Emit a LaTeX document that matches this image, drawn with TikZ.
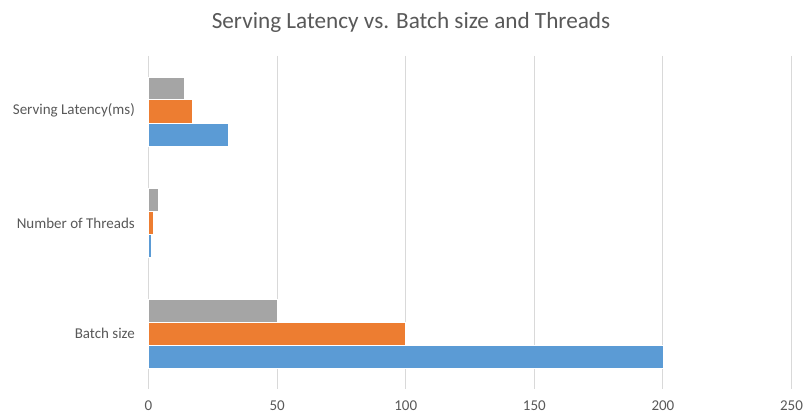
\documentclass[tikz,border=0pt]{standalone}
\usepackage{fontspec}
\setmainfont{Carlito}
\definecolor{txt}{HTML}{595959}
\definecolor{gridc}{HTML}{D9D9D9}
\definecolor{sblue}{HTML}{5B9BD5}
\definecolor{sorange}{HTML}{ED7D31}
\definecolor{sgray}{HTML}{A5A5A5}
\tikzset{
  gridline/.style={draw=gridc, line width=1pt},
  catlabel/.style={anchor=east, text=txt, font=\fontsize{15}{17}\selectfont, inner sep=0pt},
  ticklabel/.style={anchor=center, text=txt, font=\fontsize{15}{17}\selectfont, inner sep=0pt},
  bar/.style={draw=white, line width=0.6pt},
}
\begin{document}
\begin{tikzpicture}[x=1pt,y=-1pt]
\useasboundingbox (0,0) rectangle (803,414);
\fill[white] (0,0) rectangle (803,414);
% gridlines and ticks
\foreach \v/\n in {0/g0,50/g1,100/g2,150/g3,200/g4,250/g5}{
  \coordinate (\n top) at ({148.5+2.572*\v},56);
  \coordinate (\n bot) at ({148.5+2.572*\v},389);
  \draw[gridline] (\n top) -- (\n bot);
  \node[ticklabel] (\n lab) at ({148.5+2.572*\v},405.5) {\v};
}
% title
\node[text=txt, font=\fontsize{23.2}{26}\selectfont, inner sep=0pt] (title) at (411,22) {Serving Latency vs. Batch size and Threads};
% bars: Serving Latency
\fill[sgray,bar]   (148.5,77)  rectangle ({148.5+2.572*14},99.5);
\fill[sorange,bar] (148.5,99.5) rectangle ({148.5+2.572*17},123);
\fill[sblue,bar]   (148.5,123) rectangle ({148.5+2.572*31},146);
% Number of Threads
\fill[sgray,bar]   (148.5,188)  rectangle ({148.5+2.572*4},211);
\fill[sorange,bar] (148.5,211) rectangle ({148.5+2.572*2},234);
\fill[sblue,bar]   (148.5,234) rectangle ({148.5+2.572*1},257);
% Batch size
\fill[sgray,bar]   (148.5,299)  rectangle ({148.5+2.572*50},322);
\fill[sorange,bar] (148.5,322) rectangle ({148.5+2.572*100},345.5);
\fill[sblue,bar]   (148.5,345.5) rectangle ({148.5+2.572*200},368);
% category labels
\node[catlabel] (c1) at (135,110) {Serving Latency(ms)};
\node[catlabel] (c2) at (135,223) {Number of Threads};
\node[catlabel] (c3) at (135,333) {Batch size};
\end{tikzpicture}
\end{document}
